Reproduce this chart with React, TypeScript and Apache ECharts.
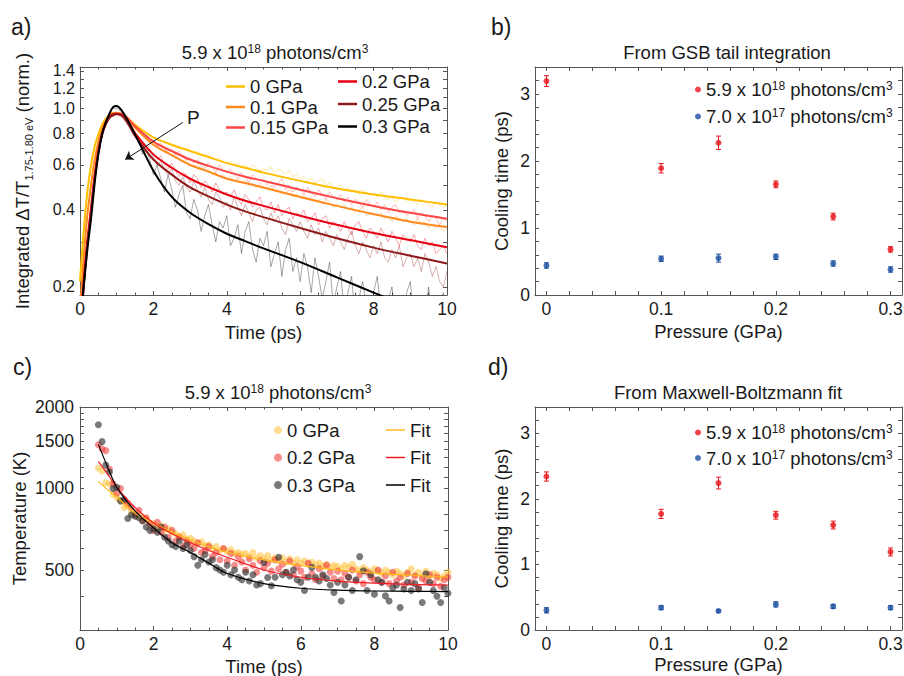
import React, { useEffect, useRef } from 'react';
import * as echarts from 'echarts';

const FONT = "'Liberation Sans', Arial, Helvetica, sans-serif";
const TXT = '#1a1a1a';
const AX = '#555555';
const FS = 18.5;
const TICK_FS = 17.5;
const SUP_FS = 12;

// ---------- Panel a: integrated dT/T ----------
const A_NAMES = ['0 GPa', '0.1 GPa', '0.15 GPa', '0.2 GPa', '0.25 GPa', '0.3 GPa'];
const A_COLORS = ['#FFBF00', '#FF8A1C', '#FF4646', '#E60012', '#8E1A1A', '#000000'];
const A_FIT_T = [0, 0.1, 0.2, 0.3, 0.4, 0.5, 0.6, 0.7, 0.8, 0.9, 1.0, 1.2, 1.5, 2, 2.5, 3, 3.5, 4, 4.5, 5, 6, 7, 8, 9, 10];
const FIT_0 = [0.21, 0.33, 0.47, 0.6, 0.71, 0.79, 0.86, 0.91, 0.94, 0.96, 0.96, 0.94, 0.86, 0.77, 0.72, 0.68, 0.645, 0.61, 0.585, 0.56, 0.52, 0.485, 0.46, 0.44, 0.42];
const FIT_01 = [0.16, 0.26, 0.38, 0.5, 0.63, 0.74, 0.83, 0.89, 0.93, 0.95, 0.955, 0.93, 0.84, 0.72, 0.655, 0.6, 0.565, 0.53, 0.51, 0.49, 0.45, 0.415, 0.385, 0.36, 0.343];
const FIT_015 = [0.13, 0.21, 0.3, 0.41, 0.55, 0.69, 0.8, 0.875, 0.925, 0.95, 0.955, 0.94, 0.85, 0.74, 0.68, 0.63, 0.595, 0.565, 0.54, 0.52, 0.48, 0.445, 0.415, 0.39, 0.37];
const FIT_02 = [0.13, 0.21, 0.3, 0.4, 0.54, 0.68, 0.79, 0.87, 0.92, 0.95, 0.95, 0.93, 0.8, 0.66, 0.585, 0.53, 0.492, 0.46, 0.435, 0.415, 0.38, 0.35, 0.325, 0.305, 0.286];
const FIT_025 = [0.13, 0.2, 0.29, 0.39, 0.53, 0.67, 0.785, 0.865, 0.915, 0.94, 0.95, 0.92, 0.78, 0.63, 0.55, 0.49, 0.452, 0.42, 0.395, 0.375, 0.34, 0.31, 0.285, 0.265, 0.247];
const FIT_03 = [0.14, 0.2, 0.28, 0.37, 0.51, 0.66, 0.79, 0.88, 0.95, 1.01, 1.02, 0.95, 0.79, 0.57, 0.45, 0.39, 0.352, 0.323, 0.302, 0.283, 0.25, 0.218, 0.19, 0.166, 0.145];

// measured traces, sampled every 0.1 ps from 0 to 10 ps
const TRACE_T = Array.from({ length: 101 }, (_, i) => i / 10);
const TR_0 = [
  0.22, 0.32, 0.48, 0.59, 0.72, 0.78, 0.87, 0.9, 0.95, 0.95,
  0.96, 0.95, 0.94, 0.92, 0.9, 0.87, 0.85, 0.82, 0.81, 0.78,
  0.77, 0.76, 0.74, 0.75, 0.73, 0.71, 0.72, 0.7, 0.69, 0.7,
  0.68, 0.67, 0.68, 0.66, 0.65, 0.66, 0.64, 0.63, 0.64, 0.62,
  0.61, 0.62, 0.6, 0.61, 0.59, 0.6, 0.58, 0.6, 0.59, 0.57,
  0.58, 0.57, 0.59, 0.56, 0.58, 0.57, 0.55, 0.57, 0.54, 0.55,
  0.53, 0.54, 0.52, 0.53, 0.51, 0.52, 0.53, 0.5, 0.51, 0.49,
  0.49, 0.5, 0.48, 0.49, 0.47, 0.48, 0.46, 0.48, 0.47, 0.46,
  0.46, 0.45, 0.47, 0.45, 0.44, 0.45, 0.43, 0.44, 0.45, 0.43,
  0.44, 0.43, 0.42, 0.44, 0.43, 0.42, 0.41, 0.43, 0.42, 0.41,
  0.42,
];
const TR_01 = [
  0.17, 0.25, 0.39, 0.49, 0.64, 0.73, 0.84, 0.88, 0.94, 0.94,
  0.95, 0.95, 0.92, 0.9, 0.88, 0.84, 0.82, 0.79, 0.76, 0.75,
  0.72, 0.71, 0.69, 0.7, 0.67, 0.65, 0.66, 0.63, 0.62, 0.63,
  0.6, 0.59, 0.61, 0.58, 0.57, 0.58, 0.55, 0.56, 0.54, 0.55,
  0.53, 0.54, 0.52, 0.53, 0.51, 0.52, 0.5, 0.51, 0.49, 0.51,
  0.49, 0.48, 0.5, 0.47, 0.48, 0.46, 0.47, 0.48, 0.45, 0.46,
  0.45, 0.46, 0.44, 0.45, 0.43, 0.44, 0.42, 0.44, 0.43, 0.41,
  0.42, 0.41, 0.42, 0.4, 0.41, 0.39, 0.4, 0.41, 0.38, 0.39,
  0.39, 0.38, 0.39, 0.37, 0.38, 0.36, 0.38, 0.37, 0.36, 0.37,
  0.36, 0.35, 0.37, 0.35, 0.36, 0.34, 0.35, 0.34, 0.35, 0.33,
  0.34,
];
const TR_015 = [
  0.14, 0.2, 0.31, 0.4, 0.56, 0.68, 0.81, 0.86, 0.94, 0.93,
  0.96, 0.94, 0.95, 0.91, 0.88, 0.86, 0.83, 0.8, 0.78, 0.76,
  0.75, 0.71, 0.73, 0.7, 0.67, 0.69, 0.66, 0.68, 0.64, 0.63,
  0.64, 0.61, 0.63, 0.6, 0.58, 0.61, 0.59, 0.56, 0.6, 0.57,
  0.56, 0.58, 0.55, 0.53, 0.56, 0.54, 0.51, 0.55, 0.53, 0.52,
  0.53, 0.5, 0.52, 0.49, 0.51, 0.53, 0.48, 0.5, 0.47, 0.49,
  0.48, 0.46, 0.49, 0.47, 0.45, 0.48, 0.46, 0.44, 0.47, 0.45,
  0.44, 0.46, 0.43, 0.45, 0.42, 0.44, 0.43, 0.41, 0.44, 0.42,
  0.41, 0.43, 0.4, 0.42, 0.39, 0.41, 0.42, 0.39, 0.4, 0.38,
  0.39, 0.4, 0.37, 0.39, 0.38, 0.36, 0.38, 0.37, 0.35, 0.37,
  0.36,
];
const TR_02 = [
  0.14, 0.2, 0.31, 0.39, 0.55, 0.67, 0.8, 0.86, 0.93, 0.94,
  0.94, 0.95, 0.9, 0.88, 0.86, 0.8, 0.77, 0.72, 0.71, 0.68,
  0.66, 0.63, 0.65, 0.6, 0.58, 0.61, 0.57, 0.54, 0.56, 0.55,
  0.51, 0.55, 0.53, 0.49, 0.52, 0.5, 0.47, 0.51, 0.48, 0.46,
  0.47, 0.45, 0.48, 0.44, 0.42, 0.46, 0.44, 0.41, 0.43, 0.45,
  0.41, 0.4, 0.43, 0.39, 0.42, 0.38, 0.4, 0.41, 0.37, 0.39,
  0.38, 0.4, 0.36, 0.37, 0.39, 0.35, 0.37, 0.38, 0.34, 0.36,
  0.35, 0.33, 0.36, 0.34, 0.32, 0.35, 0.36, 0.33, 0.31, 0.34,
  0.33, 0.31, 0.34, 0.32, 0.3, 0.33, 0.31, 0.29, 0.32, 0.31,
  0.3, 0.32, 0.29, 0.28, 0.31, 0.29, 0.3, 0.27, 0.28, 0.29,
  0.27,
];
const TR_025 = [
  0.13, 0.19, 0.3, 0.38, 0.54, 0.66, 0.8, 0.85, 0.93, 0.93,
  0.95, 0.93, 0.91, 0.86, 0.84, 0.79, 0.74, 0.73, 0.67, 0.69,
  0.64, 0.6, 0.62, 0.57, 0.55, 0.58, 0.52, 0.5, 0.54, 0.49,
  0.47, 0.52, 0.48, 0.45, 0.49, 0.44, 0.42, 0.47, 0.45, 0.41,
  0.43, 0.4, 0.45, 0.41, 0.38, 0.42, 0.39, 0.36, 0.4, 0.41,
  0.37, 0.35, 0.39, 0.36, 0.38, 0.34, 0.32, 0.37, 0.35, 0.33,
  0.36, 0.33, 0.31, 0.35, 0.32, 0.34, 0.3, 0.33, 0.31, 0.29,
  0.32, 0.3, 0.28, 0.31, 0.33, 0.29, 0.27, 0.3, 0.28, 0.26,
  0.29, 0.27, 0.3, 0.26, 0.25, 0.28, 0.26, 0.29, 0.24, 0.26,
  0.27, 0.24, 0.26, 0.23, 0.27, 0.25, 0.22, 0.24, 0.21, 0.2,
  0.23,
];
const TR_03 = [
  0.13, 0.19, 0.29, 0.36, 0.52, 0.65, 0.8, 0.87, 0.96, 1.0,
  1.0, 0.98, 0.93, 0.92, 0.82, 0.8, 0.77, 0.66, 0.69, 0.63,
  0.55, 0.6, 0.53, 0.47, 0.55, 0.48, 0.41, 0.46, 0.5, 0.39,
  0.37, 0.44, 0.4, 0.33, 0.38, 0.42, 0.35, 0.3, 0.36, 0.34,
  0.38, 0.29, 0.31, 0.35, 0.27, 0.33, 0.36, 0.28, 0.25, 0.31,
  0.29, 0.33, 0.24, 0.27, 0.3, 0.22, 0.28, 0.31, 0.23, 0.26,
  0.21, 0.27, 0.24, 0.19, 0.26, 0.22, 0.18, 0.21, 0.25, 0.17,
  0.2, 0.23, 0.16, 0.19, 0.22, 0.15, 0.18, 0.21, 0.17, 0.14,
  0.19, 0.22, 0.16, 0.14, 0.18, 0.2, 0.15, 0.17, 0.13, 0.19,
  0.21, 0.15, 0.13, 0.18, 0.16, 0.2, 0.14, 0.12, 0.17, 0.19,
  0.15,
];
const A_FITS = [FIT_0, FIT_01, FIT_015, FIT_02, FIT_025, FIT_03];
const A_TRACES = [TR_0, TR_01, TR_015, TR_02, TR_025, TR_03];
const A_YTICKS = [0.2, 0.3, 0.4, 0.5, 0.6, 0.7, 0.8, 0.9, 1.0, 1.1, 1.2, 1.3, 1.4];
const A_YLABELS = [0.2, 0.4, 0.6, 0.8, 1.0, 1.2, 1.4];

// ---------- Panels b & d: cooling times ----------
const PRESSURE = [0, 0.1, 0.15, 0.2, 0.25, 0.3];
const B_HIGH = [3.19, 1.89, 2.27, 1.65, 1.17, 0.68];
const B_HIGH_ERR = [0.08, 0.07, 0.1, 0.05, 0.05, 0.04];
const B_LOW = [0.44, 0.54, 0.55, 0.57, 0.47, 0.38];
const B_LOW_ERR = [0.04, 0.04, 0.06, 0.04, 0.04, 0.04];
const D_HIGH = [2.34, 1.77, 2.24, 1.75, 1.6, 1.19];
const D_HIGH_ERR = [0.07, 0.07, 0.09, 0.06, 0.06, 0.06];
const D_LOW = [0.3, 0.34, 0.29, 0.39, 0.36, 0.34];
const D_LOW_ERR = [0.04, 0.03, 0.02, 0.04, 0.03, 0.03];
const P_TICKS = [0, 0.02, 0.04, 0.06, 0.08, 0.1, 0.12, 0.14, 0.16, 0.18, 0.2, 0.22, 0.24, 0.26, 0.28, 0.3];
const P_LABELS = [0, 0.1, 0.2, 0.3];
const CT_TICKS = [0, 0.2, 0.4, 0.6, 0.8, 1, 1.2, 1.4, 1.6, 1.8, 2, 2.2, 2.4, 2.6, 2.8, 3, 3.2];
const CT_LABELS = [0, 1, 2, 3];

// ---------- Panel c: temperature ----------
const C_T = Array.from({ length: 96 }, (_, i) => (5 + i) / 10);
const C_0 = [
  1190, 1160, 1050, 1040, 950, 925, 900, 850, 860, 820,
  810, 790, 780, 770, 745, 740, 720, 730, 700, 710,
  690, 680, 665, 675, 650, 655, 640, 625, 635, 615,
  620, 600, 610, 590, 600, 585, 595, 575, 580, 570,
  575, 560, 580, 555, 565, 550, 565, 545, 555, 540,
  555, 535, 550, 530, 545, 530, 540, 525, 535, 520,
  530, 515, 525, 510, 520, 515, 505, 520, 510, 525,
  505, 495, 510, 500, 490, 505, 495, 485, 500, 490,
  480, 495, 485, 475, 490, 505, 480, 490, 475, 495,
  470, 485, 480, 465, 475, 490,
];
const C_02 = [
  1450, 1400, 1380, 1180, 1040, 960, 1000, 900, 880, 850,
  800, 830, 760, 780, 740, 700, 750, 690, 720, 660,
  700, 640, 660, 610, 640, 620, 600, 630, 580, 590,
  610, 560, 580, 545, 600, 540, 575, 520, 560, 535,
  500, 550, 520, 490, 540, 510, 530, 495, 545, 505,
  525, 490, 540, 480, 515, 495, 470, 530, 485, 460,
  505, 475, 520, 490, 465, 495, 460, 485, 470, 500,
  455, 480, 445, 490, 470, 460, 500, 450, 475, 445,
  490, 455, 470, 440, 485, 450, 475, 430, 465, 455,
  480, 445, 470, 435, 460, 470,
];
const C_03 = [
  1720, 1490, 1220, 1150, 1000, 1010, 900, 910, 775, 800,
  790, 780, 760, 720, 700, 710, 690, 720, 660, 640,
  620, 610, 640, 600, 620, 590, 560, 520, 545, 570,
  535, 545, 510, 500, 490, 520, 480, 500, 470, 460,
  490, 455, 480, 440, 445, 533, 469, 437, 470, 557,
  480, 490, 475, 500, 460, 450, 420, 470, 511, 470,
  455, 480, 465, 440, 413, 450, 384, 440, 470, 420,
  460, 560, 497, 420, 480, 407, 460, 450, 401, 384,
  430, 440, 363, 425, 450, 420, 445, 425, 379, 484,
  450, 420, 400, 379, 430, 410,
];
const C_FIT_T = [0.5, 0.75, 1, 1.5, 2, 2.5, 3, 3.5, 4, 5, 6, 7, 8, 9, 10];
const C_FIT_0 = [1060, 990, 930, 810, 745, 690, 645, 610, 582, 545, 520, 500, 487, 478, 470];
const C_FIT_02 = [1260, 1130, 1010, 850, 745, 680, 630, 590, 557, 500, 470, 455, 447, 442, 440];
const C_FIT_03 = [1455, 1200, 1010, 825, 715, 630, 580, 530, 485, 445, 428, 421, 418, 417, 416];
const C_YTICKS = [400, 500, 600, 700, 800, 900, 1000, 1100, 1200, 1300, 1400, 1500, 1600, 1700, 1800, 1900, 2000];
const C_YLABELS = [500, 1000, 1500, 2000];

const RED = '#E8141B';
const BLUE = '#1A4FA0';

const zip = (xs: number[], ys: number[]) => xs.map((x, i) => [x, ys[i]]);

const SUP_RICH = {
  t: { fontSize: FS, fontFamily: FONT, color: TXT, lineHeight: 19 },
  s: { fontSize: SUP_FS, fontFamily: FONT, color: TXT, lineHeight: 12, verticalAlign: 'top' },
};
const SUP_RICH_FILL = {
  t: { fontSize: FS, fontFamily: FONT, fill: TXT, lineHeight: 19 },
  s: { fontSize: SUP_FS, fontFamily: FONT, fill: TXT, lineHeight: 12, verticalAlign: 'top' },
};
const HIGH_TXT = '{t|5.9 x 10}{s|18}{t| photons/cm}{s|3}';
const LOW_TXT = '{t|7.0 x 10}{s|17}{t| photons/cm}{s|3}';

function mkAxis(o: any) {
  const { tick, label, minor, ...rest } = o;
  return {
    ...rest,
    axisLine: { show: true, onZero: false, lineStyle: { color: AX, width: 1 } },
    axisTick: { show: true, inside: true, length: 4, lineStyle: { color: AX, width: 1 }, ...(tick || {}) },
    axisLabel: label
      ? { show: true, fontSize: TICK_FS, fontFamily: FONT, color: TXT, ...label }
      : { show: false },
    minorTick: minor
      ? { show: true, splitNumber: minor, length: 2.5, lineStyle: { color: AX, width: 1 } }
      : { show: false },
    splitLine: { show: false },
    minorSplitLine: { show: false },
    axisPointer: { show: false },
  };
}

const nameStyle = { fontSize: FS, fontFamily: FONT, color: TXT };

function errRender(color: string) {
  return (params: any, api: any) => {
    const x = api.value(0);
    const y = api.value(1);
    const e = api.value(2);
    const hi = api.coord([x, y + e]);
    const lo = api.coord([x, y - e]);
    const w = 2.5;
    const style = { stroke: color, lineWidth: 1 };
    return {
      type: 'group',
      children: [
        { type: 'line', shape: { x1: hi[0], y1: hi[1], x2: lo[0], y2: lo[1] }, style },
        { type: 'line', shape: { x1: hi[0] - w, y1: hi[1], x2: hi[0] + w, y2: hi[1] }, style },
        { type: 'line', shape: { x1: lo[0] - w, y1: lo[1], x2: lo[0] + w, y2: lo[1] }, style },
      ],
    };
  };
}

function coolingSeries(prefix: string, idx: number, high: number[], highErr: number[], low: number[], lowErr: number[]) {
  return [
    {
      name: prefix + ' high err', type: 'custom', xAxisIndex: idx, yAxisIndex: idx, silent: true, z: 3,
      renderItem: errRender(RED), encode: { x: 0, y: 1 },
      data: PRESSURE.map((p, i) => [p, high[i], highErr[i]]),
    },
    {
      name: prefix + ' low err', type: 'custom', xAxisIndex: idx, yAxisIndex: idx, silent: true, z: 3,
      renderItem: errRender(BLUE), encode: { x: 0, y: 1 },
      data: PRESSURE.map((p, i) => [p, low[i], lowErr[i]]),
    },
    {
      name: prefix + ' high', type: 'scatter', xAxisIndex: idx, yAxisIndex: idx, z: 4, silent: true,
      symbolSize: 6, itemStyle: { color: RED }, data: zip(PRESSURE, high),
    },
    {
      name: prefix + ' low', type: 'scatter', xAxisIndex: idx, yAxisIndex: idx, z: 4, silent: true,
      symbolSize: 6, itemStyle: { color: BLUE }, data: zip(PRESSURE, low),
    },
  ];
}

function buildOption() {
  const series: any[] = [];
  A_TRACES.forEach((tr, i) => {
    series.push({
      name: A_NAMES[i] + ' data', type: 'line', xAxisIndex: 0, yAxisIndex: 0,
      data: zip(TRACE_T, tr), symbol: 'none', silent: true, z: 2,
      lineStyle: { width: 1, color: A_COLORS[i], opacity: 0.35 }, itemStyle: { color: A_COLORS[i] },
    });
  });
  A_FITS.forEach((f, i) => {
    const s: any = {
      name: A_NAMES[i], type: 'line', xAxisIndex: 0, yAxisIndex: 0,
      data: zip(A_FIT_T, f), symbol: 'none', smooth: 0.3, z: 3, silent: true,
      lineStyle: { width: 2, color: A_COLORS[i] }, itemStyle: { color: A_COLORS[i] },
    };
    if (i === A_FITS.length - 1) {
      s.markLine = {
        silent: true, symbol: ['none', 'arrow'], symbolSize: 8,
        label: { show: false }, lineStyle: { color: '#111', width: 1, type: 'solid' },
        data: [[{ coord: [2.8, 0.88] }, { coord: [1.23, 0.63] }]],
      };
    }
    series.push(s);
  });

  series.push(...coolingSeries('b', 2, B_HIGH, B_HIGH_ERR, B_LOW, B_LOW_ERR));

  const cData = [C_0, C_02, C_03];
  const cFits = [C_FIT_0, C_FIT_02, C_FIT_03];
  const cNames = ['c 0 GPa', 'c 0.2 GPa', 'c 0.3 GPa'];
  const cFitNames = ['c fit 0', 'c fit 0.2', 'c fit 0.3'];
  const cDot = ['#FFC13A', '#F03232', '#333333'];
  const cDotOp = [0.55, 0.55, 0.65];
  const cLine = ['#FFB81C', '#EE1C25', '#000000'];
  cData.forEach((d, i) => {
    series.push({
      name: cNames[i], type: 'scatter', xAxisIndex: 4, yAxisIndex: 4, z: 2, silent: true,
      symbolSize: 7, itemStyle: { color: cDot[i], opacity: cDotOp[i] }, data: zip(C_T, d),
    });
  });
  cFits.forEach((f, i) => {
    series.push({
      name: cFitNames[i], type: 'line', xAxisIndex: 4, yAxisIndex: 4, z: 3, silent: true,
      symbol: 'none', smooth: 0.3, data: zip(C_FIT_T, f),
      lineStyle: { width: 1.2, color: cLine[i] }, itemStyle: { color: cLine[i] },
    });
  });

  series.push(...coolingSeries('d', 6, D_HIGH, D_HIGH_ERR, D_LOW, D_LOW_ERR));

  const legText = { fontSize: FS, fontFamily: FONT, color: TXT, lineHeight: 19 };
  const legBase = { orient: 'vertical', selectedMode: false, padding: 0 };

  return {
    animation: false,
    backgroundColor: '#ffffff',
    textStyle: { fontFamily: FONT },
    grid: [
      { left: 80, top: 67, width: 367, height: 228, outerBoundsMode: 'none' },
      { left: 535, top: 67, width: 367, height: 228, outerBoundsMode: 'none' },
      { left: 80, top: 407, width: 368, height: 223, outerBoundsMode: 'none' },
      { left: 535, top: 407, width: 367, height: 223, outerBoundsMode: 'none' },
    ],
    xAxis: [
      mkAxis({ gridIndex: 0, type: 'value', min: 0, max: 10, interval: 2, position: 'bottom', minor: 4,
        label: { margin: 5 }, name: 'Time (ps)', nameLocation: 'middle', nameGap: 28, nameTextStyle: nameStyle }),
      mkAxis({ gridIndex: 0, type: 'value', min: 0, max: 10, interval: 2, position: 'top', minor: 4 }),
      mkAxis({ gridIndex: 1, type: 'value', min: -0.01, max: 0.31, position: 'bottom',
        tick: { customValues: P_TICKS },
        label: { customValues: P_LABELS, margin: 5, formatter: (v: number) => (v === 0 ? '0' : v.toFixed(1)) },
        name: 'Pressure (GPa)', nameLocation: 'middle', nameGap: 27, nameTextStyle: nameStyle }),
      mkAxis({ gridIndex: 1, type: 'value', min: -0.01, max: 0.31, position: 'top', tick: { customValues: P_TICKS } }),
      mkAxis({ gridIndex: 2, type: 'value', min: 0, max: 10, interval: 2, position: 'bottom', minor: 4,
        label: { margin: 5 }, name: 'Time (ps)', nameLocation: 'middle', nameGap: 27, nameTextStyle: nameStyle }),
      mkAxis({ gridIndex: 2, type: 'value', min: 0, max: 10, interval: 2, position: 'top', minor: 4 }),
      mkAxis({ gridIndex: 3, type: 'value', min: -0.01, max: 0.31, position: 'bottom',
        tick: { customValues: P_TICKS },
        label: { customValues: P_LABELS, margin: 5, formatter: (v: number) => (v === 0 ? '0' : v.toFixed(1)) },
        name: 'Pressure (GPa)', nameLocation: 'middle', nameGap: 25, nameTextStyle: nameStyle }),
      mkAxis({ gridIndex: 3, type: 'value', min: -0.01, max: 0.31, position: 'top', tick: { customValues: P_TICKS } }),
    ],
    yAxis: [
      mkAxis({ gridIndex: 0, type: 'log', logBase: 10, min: 0.186, max: 1.45, position: 'left',
        tick: { customValues: A_YTICKS },
        label: { customValues: A_YLABELS, margin: 5, fontSize: 16, lineHeight: 14, formatter: (v: number) => v.toFixed(1) },
        name: '{n|Integrated ΔT/T}{s|1.75-1.80 eV}{n| (norm.)}', nameLocation: 'middle', nameGap: 46,
        nameTextStyle: {
          ...nameStyle,
          rich: {
            n: { fontSize: FS, fontFamily: FONT, color: TXT, lineHeight: 23 },
            s: { fontSize: 11, fontFamily: FONT, color: TXT, lineHeight: 12, verticalAlign: 'bottom' },
          },
        } }),
      mkAxis({ gridIndex: 0, type: 'log', logBase: 10, min: 0.186, max: 1.45, position: 'right',
        tick: { customValues: A_YTICKS } }),
      mkAxis({ gridIndex: 1, type: 'value', min: 0, max: 3.4, position: 'left',
        tick: { customValues: CT_TICKS }, label: { customValues: CT_LABELS, margin: 5 },
        name: 'Cooling time (ps)', nameLocation: 'middle', nameGap: 24, nameTextStyle: nameStyle }),
      mkAxis({ gridIndex: 1, type: 'value', min: 0, max: 3.4, position: 'right', tick: { customValues: CT_TICKS } }),
      mkAxis({ gridIndex: 2, type: 'log', logBase: 10, min: 300, max: 2000, position: 'left',
        tick: { customValues: C_YTICKS },
        label: { customValues: C_YLABELS, margin: 6, formatter: (v: number) => String(Math.round(v)) },
        name: 'Temperature (K)', nameLocation: 'middle', nameGap: 51, nameTextStyle: nameStyle }),
      mkAxis({ gridIndex: 2, type: 'log', logBase: 10, min: 300, max: 2000, position: 'right',
        tick: { customValues: C_YTICKS } }),
      mkAxis({ gridIndex: 3, type: 'value', min: 0, max: 3.4, position: 'left',
        tick: { customValues: CT_TICKS }, label: { customValues: CT_LABELS, margin: 5 },
        name: 'Cooling time (ps)', nameLocation: 'middle', nameGap: 24, nameTextStyle: nameStyle }),
      mkAxis({ gridIndex: 3, type: 'value', min: 0, max: 3.4, position: 'right', tick: { customValues: CT_TICKS } }),
    ],
    legend: [
      { ...legBase, data: A_NAMES.slice(0, 3), left: 226, top: 77, icon: 'rect',
        itemWidth: 19, itemHeight: 2.5, itemGap: 1.5, textStyle: legText },
      { ...legBase, data: A_NAMES.slice(3), left: 338, top: 72, icon: 'rect',
        itemWidth: 19, itemHeight: 2.5, itemGap: 3.5, textStyle: legText },
      { ...legBase, data: ['b high', 'b low'], left: 695, top: 80, icon: 'circle',
        itemWidth: 6, itemHeight: 6, itemGap: 8,
        formatter: (n: string) => (n.endsWith('high') ? HIGH_TXT : LOW_TXT),
        textStyle: { ...legText, rich: SUP_RICH } },
      { ...legBase, data: ['d high', 'd low'], left: 695, top: 423, icon: 'circle',
        itemWidth: 6, itemHeight: 6, itemGap: 6.5,
        formatter: (n: string) => (n.endsWith('high') ? HIGH_TXT : LOW_TXT),
        textStyle: { ...legText, rich: SUP_RICH } },
      { ...legBase, data: cNames, left: 274, top: 420.5, icon: 'circle',
        itemWidth: 8, itemHeight: 8, itemGap: 8.5,
        formatter: (n: string) => n.slice(2), textStyle: legText },
      { ...legBase, data: cFitNames, left: 386, top: 420.5, icon: 'rect',
        itemWidth: 19, itemHeight: 1.5, itemGap: 8.5,
        formatter: () => 'Fit', textStyle: legText },
    ],
    graphic: [
      { type: 'text', x: 11, y: 27, style: { text: 'a)', fontSize: 23, fontFamily: FONT, fill: TXT, verticalAlign: 'middle' } },
      { type: 'text', x: 491, y: 27, style: { text: 'b)', fontSize: 23, fontFamily: FONT, fill: TXT, verticalAlign: 'middle' } },
      { type: 'text', x: 13, y: 367, style: { text: 'c)', fontSize: 23, fontFamily: FONT, fill: TXT, verticalAlign: 'middle' } },
      { type: 'text', x: 488, y: 367, style: { text: 'd)', fontSize: 23, fontFamily: FONT, fill: TXT, verticalAlign: 'middle' } },
      { type: 'text', x: 275, y: 52, style: { text: HIGH_TXT, rich: SUP_RICH_FILL, fontSize: FS, fontFamily: FONT, fill: TXT, align: 'center', verticalAlign: 'middle' } },
      { type: 'text', x: 727, y: 52, style: { text: 'From GSB tail integration', fontSize: FS, fontFamily: FONT, fill: TXT, align: 'center', verticalAlign: 'middle' } },
      { type: 'text', x: 278, y: 392, style: { text: HIGH_TXT, rich: SUP_RICH_FILL, fontSize: FS, fontFamily: FONT, fill: TXT, align: 'center', verticalAlign: 'middle' } },
      { type: 'text', x: 728, y: 392, style: { text: 'From Maxwell-Boltzmann fit', fontSize: FS, fontFamily: FONT, fill: TXT, align: 'center', verticalAlign: 'middle' } },
      { type: 'text', x: 187, y: 117, style: { text: 'P', fontSize: 19, fontFamily: FONT, fill: TXT, verticalAlign: 'middle' } },
    ],
    series,
  };
}

export default function App() {
  const ref = useRef<HTMLDivElement>(null);
  useEffect(() => {
    if (!ref.current) return;
    const chart = echarts.init(ref.current, undefined, { renderer: 'svg' });
    chart.setOption(buildOption() as any);
    return () => chart.dispose();
  }, []);
  return (
    <div
      ref={ref}
      style={{ position: 'absolute', left: 0, top: 0, width: 904, height: 676, background: '#fff' }}
    />
  );
}
